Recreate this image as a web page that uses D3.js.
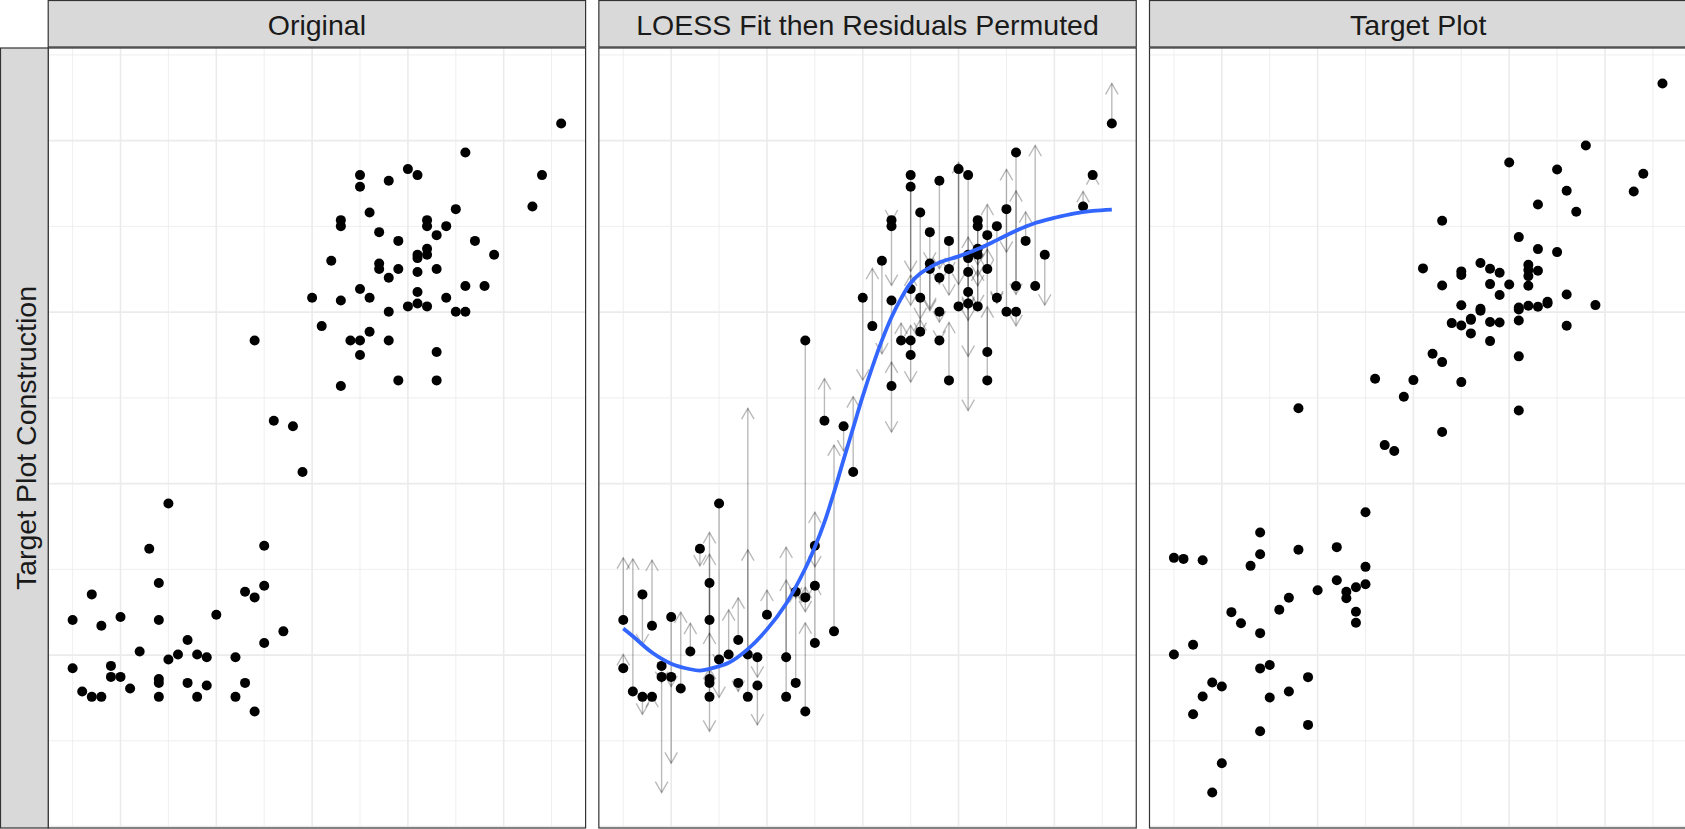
<!DOCTYPE html>
<html>
<head>
<meta charset="utf-8">
<script src="https://cdn.jsdelivr.net/npm/d3@7/dist/d3.min.js"></script>
<style>
  html, body { margin: 0; padding: 0; background: #ffffff; overflow: hidden; }
  svg { display: block; }
</style>
</head>
<body>
<svg id="chart" width="1685" height="829"></svg>
<script>
// Facet titles
const panelTitles = ["Original", "LOESS Fit then Residuals Permuted", "Target Plot"];
const rowTitle = "Target Plot Construction";

// Observations: x, observed y, and the target y (LOESS fit + permuted residual)
const obsX = [
  1.5, 1.5, 1.6, 1.7, 1.7, 1.8, 1.8, 1.9, 1.9, 2.0, 2.0, 2.1, 2.2, 2.3,
  2.4, 2.4, 2.4, 2.4, 2.4, 2.5, 2.5, 2.6, 2.7, 2.7, 2.8, 2.8, 2.9, 2.9,
  3.0, 3.2, 3.2, 3.3, 3.3, 3.4, 3.4, 3.4, 3.5, 3.5, 3.5, 3.6, 3.7, 3.8,
  3.9, 4.0, 4.1, 4.2, 4.3, 4.3, 4.3, 4.3, 4.4, 4.5, 4.5, 4.5, 4.5, 4.5,
  4.6, 4.6, 4.6, 4.7, 4.7, 4.7, 4.8, 4.8, 4.8, 4.8, 4.9, 4.9, 4.9, 5.0,
  5.0, 5.1, 5.1, 5.1, 5.1, 5.1, 5.1, 5.2, 5.2, 5.2, 5.2, 5.2, 5.3, 5.3,
  5.3, 5.3, 5.4, 5.4, 5.5, 5.5, 5.6, 5.6, 5.6, 5.7, 5.8, 5.9, 6.3, 6.4,
  6.6
];
const obsY = [
  24.09, 18.47, 15.75, 27.08, 15.13, 23.43, 15.13, 18.74, 17.46, 24.44, 17.46, 16.10, 20.41, 32.40,
  28.40, 24.09, 17.22, 16.76, 15.13, 37.68, 19.48, 20.06, 21.77, 16.76, 20.06, 15.13, 19.75, 16.45,
  24.71, 19.75, 15.13, 27.39, 16.76, 56.70, 26.73, 13.42, 32.75, 28.09, 21.42, 47.34, 22.77, 46.68,
  41.36, 61.68, 58.37, 65.99, 70.73, 70.03, 61.36, 51.38, 56.70, 75.98, 74.62, 62.69, 56.70, 54.99,
  71.63, 61.68, 57.71, 69.33, 65.68, 65.02, 75.32, 64.01, 60.04, 56.70, 68.31, 65.02, 52.04, 76.68,
  60.67, 75.98, 66.69, 66.30, 64.67, 62.34, 61.01, 70.73, 70.03, 67.38, 66.69, 60.67, 68.98, 65.02,
  55.34, 52.04, 70.03, 61.68, 72.01, 60.04, 78.62, 63.04, 60.04, 68.31, 63.04, 66.69, 72.32, 75.98,
  82.00
];
const targetY = [
  31.34, 20.07, 31.22, 21.20, 13.10, 31.07, 15.18, 3.97, 16.81, 7.39, 16.34, 25.01, 23.72, 30.41,
  11.12, 31.77, 34.30, 22.56, 18.45, 15.06, 18.84, 25.28, 26.68, 15.76, 32.28, 48.78, 17.43, 11.86,
  27.57, 32.59, 28.74, 26.64, 27.38, 25.05, 27.92, 23.77, 30.29, 28.27, 36.67, 52.23, 44.49, 43.80,
  50.13, 52.07, 65.10, 55.14, 70.65, 63.11, 46.01, 54.17, 58.72, 60.80, 64.75, 64.32, 51.84, 58.45,
  59.23, 57.52, 59.10, 65.72, 60.16, 60.40, 65.06, 63.27, 58.84, 56.62, 64.59, 61.99, 58.80, 63.23,
  77.45, 60.55, 68.75, 59.03, 54.84, 60.32, 48.53, 63.07, 65.52, 60.74, 64.20, 64.90, 64.82, 67.35,
  72.56, 60.63, 61.01, 61.20, 67.00, 76.64, 62.06, 74.15, 58.41, 71.70, 79.44, 60.82, 74.07, 76.13,
  86.67
];

// LOESS fit evaluated along x
const fitX = [1.5, 1.6, 1.8, 2.0, 2.2, 2.3, 2.4, 2.6, 2.8, 3.0, 3.2, 3.4, 3.5, 3.6, 3.7, 3.8, 3.9,
              4.0, 4.1, 4.2, 4.3, 4.4, 4.5, 4.6, 4.7, 4.8, 5.0, 5.2, 5.4, 5.6, 5.8, 6.0, 6.2, 6.4, 6.6];
const fitY = [23.1, 22.2, 20.3, 19.0, 18.35, 18.2, 18.4, 19.1, 20.7, 23.0, 26.0, 30.1, 32.6, 35.5, 39.0, 42.8, 46.5,
              50.2, 53.6, 56.7, 59.4, 61.6, 63.4, 64.5, 65.2, 65.8, 66.5, 67.35, 68.4, 69.5, 70.4, 71.0, 71.5, 71.8, 71.95];

// Grid breaks
const xMajor = [2, 3, 4, 5, 6];
const xMinor = [1.5, 2.5, 3.5, 4.5, 5.5, 6.5];
const yMajor = [0, 20, 40, 60, 80];
const yMinor = [10, 30, 50, 70, 90];

// Layout
const W = 1685, H = 829;
const stripH = 47;
const panelTop = 48, panelBottom = 828;
const rowStripW = 48.2;
const panelW = 537.4, panelGap = 13.25;
const panelH = panelBottom - panelTop;
const panelLeft = [0, 1, 2].map(i => rowStripW + i * (panelW + panelGap));

const fontFamily = "'Liberation Sans', Arial, Helvetica, sans-serif";
const fontSize = 28.5;

const svg = d3.select("#chart");
svg.append("rect").attr("width", W).attr("height", H).attr("fill", "#ffffff");

// Shared scales (5% expansion on both axes)
const xExt = d3.extent(obsX);
const xPad = (xExt[1] - xExt[0]) * 0.05;
const x = d3.scaleLinear().domain([xExt[0] - xPad, xExt[1] + xPad]).range([0, panelW]);

const yExt = d3.extent(obsY.concat(targetY));
const yPad = (yExt[1] - yExt[0]) * 0.05;
const y = d3.scaleLinear().domain([yExt[0] - yPad, yExt[1] + yPad]).range([panelH, 0]);

const idx = d3.range(obsX.length);

const defs = svg.append("defs");
defs.append("clipPath").attr("id", "panel-clip")
  .append("rect").attr("x", 0).attr("y", 0).attr("width", panelW).attr("height", panelH);

function drawGrid(g) {
  const grid = g.append("g").attr("class", "grid");
  grid.selectAll("line.ymin").data(yMinor.filter(v => v >= y.domain()[0] && v <= y.domain()[1]))
    .join("line").attr("class", "ymin")
    .attr("x1", 0).attr("x2", panelW)
    .attr("y1", d => y(d)).attr("y2", d => y(d))
    .attr("stroke", "#EBEBEB").attr("stroke-width", 0.8);
  grid.selectAll("line.xmin").data(xMinor)
    .join("line").attr("class", "xmin")
    .attr("y1", 0).attr("y2", panelH)
    .attr("x1", d => x(d)).attr("x2", d => x(d))
    .attr("stroke", "#EBEBEB").attr("stroke-width", 0.8);
  grid.selectAll("line.ymaj").data(yMajor.filter(v => v >= y.domain()[0] && v <= y.domain()[1]))
    .join("line").attr("class", "ymaj")
    .attr("x1", 0).attr("x2", panelW)
    .attr("y1", d => y(d)).attr("y2", d => y(d))
    .attr("stroke", "#EBEBEB").attr("stroke-width", 1.6);
  grid.selectAll("line.xmaj").data(xMajor)
    .join("line").attr("class", "xmaj")
    .attr("y1", 0).attr("y2", panelH)
    .attr("x1", d => x(d)).attr("x2", d => x(d))
    .attr("stroke", "#EBEBEB").attr("stroke-width", 1.6);
}

function drawPoints(g, ys) {
  g.append("g").selectAll("circle").data(idx).join("circle")
    .attr("cx", i => x(obsX[i]))
    .attr("cy", i => y(ys[i]))
    .attr("r", 5)
    .attr("fill", "#000000");
}

// Arrow from observed value to target value, open head at the target
function drawArrows(g) {
  const headLen = 12.5;
  const ag = g.append("g").attr("class", "arrows")
    .attr("stroke", "#000000").attr("stroke-opacity", 0.27)
    .attr("stroke-width", 1.4).attr("fill", "none");
  ag.selectAll("line").data(idx).join("line")
    .attr("x1", i => x(obsX[i])).attr("x2", i => x(obsX[i]))
    .attr("y1", i => y(obsY[i])).attr("y2", i => y(targetY[i]));
  ag.selectAll("path").data(idx).join("path")
    .attr("d", i => {
      const px = x(obsX[i]);
      const y0 = y(obsY[i]), y1 = y(targetY[i]);
      const s = y1 >= y0 ? 1 : -1;
      const back = headLen * Math.cos(Math.PI / 6);
      const half = headLen * Math.sin(Math.PI / 6);
      return `M${px - half},${y1 - s * back}L${px},${y1}L${px + half},${y1 - s * back}`;
    });
}

function drawFit(g) {
  const line = d3.line()
    .x((d, i) => x(fitX[i]))
    .y((d, i) => y(fitY[i]))
    .curve(d3.curveCatmullRom.alpha(0.5));
  g.append("path").datum(fitX)
    .attr("d", line)
    .attr("fill", "none")
    .attr("stroke", "#3366FF")
    .attr("stroke-width", 3.8)
    .attr("stroke-linecap", "butt");
}

panelTitles.forEach((title, p) => {
  const left = panelLeft[p];

  // strip
  svg.append("rect")
    .attr("x", left).attr("y", 0.5)
    .attr("width", panelW).attr("height", stripH - 0.5)
    .attr("fill", "#D9D9D9").attr("stroke", "#333333").attr("stroke-width", 1.2);
  svg.append("text")
    .attr("x", left + panelW / 2).attr("y", 35)
    .attr("text-anchor", "middle")
    .attr("font-family", fontFamily).attr("font-size", fontSize)
    .attr("fill", "#1A1A1A")
    .text(title);

  const g = svg.append("g").attr("transform", `translate(${left},${panelTop})`);
  g.append("rect").attr("width", panelW).attr("height", panelH).attr("fill", "#ffffff");
  const body = g.append("g").attr("clip-path", "url(#panel-clip)");
  drawGrid(body);

  if (p === 0) {
    drawPoints(body, obsY);
  } else if (p === 1) {
    drawArrows(body);
    drawPoints(body, obsY);
    drawFit(body);
  } else {
    drawPoints(body, targetY);
  }

  g.append("rect").attr("width", panelW).attr("height", panelH)
    .attr("fill", "none").attr("stroke", "#333333").attr("stroke-width", 1.2);
});

// row strip on the left
svg.append("rect")
  .attr("x", 0.5).attr("y", panelTop)
  .attr("width", rowStripW - 0.5).attr("height", panelH)
  .attr("fill", "#D9D9D9").attr("stroke", "#333333").attr("stroke-width", 1.2);
svg.append("text")
  .attr("transform", `translate(36,${panelTop + panelH / 2}) rotate(-90)`)
  .attr("text-anchor", "middle")
  .attr("font-family", fontFamily).attr("font-size", fontSize)
  .attr("fill", "#1A1A1A")
  .text(rowTitle);
</script>
</body>
</html>
